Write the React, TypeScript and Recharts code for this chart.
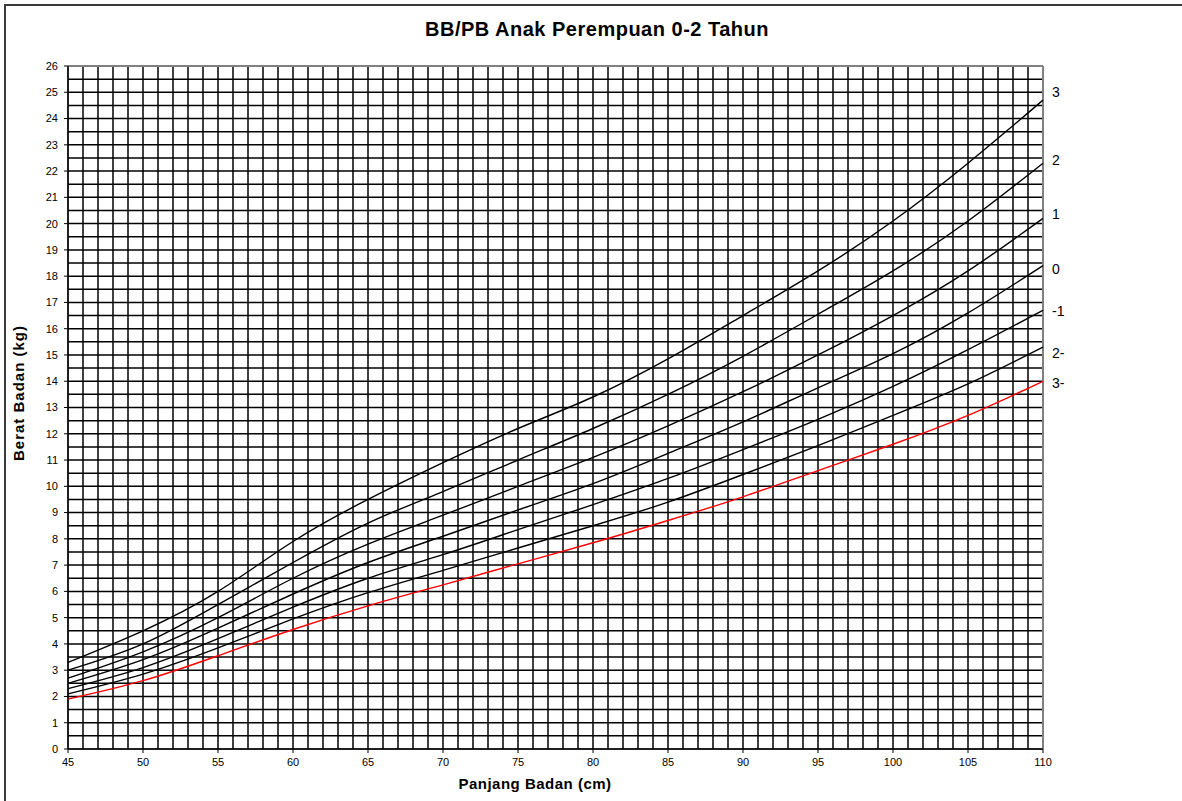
import { CartesianGrid, Label, Line, LineChart, ReferenceLine, XAxis, YAxis } from "recharts";

// panjang badan (cm)
const lengths = [45, 50, 55, 60, 65, 70, 75, 80, 85, 90, 95, 100, 105, 110];

// berat badan (kg) per z-score
const sd3neg = [1.9, 2.6, 3.55, 4.55, 5.45, 6.25, 7.05, 7.85, 8.7, 9.6, 10.6, 11.6, 12.7, 14.0];
const sd2neg = [2.1, 2.85, 3.85, 4.95, 5.95, 6.8, 7.65, 8.5, 9.4, 10.45, 11.55, 12.7, 13.9, 15.3];
const sd1neg = [2.3, 3.1, 4.2, 5.4, 6.5, 7.4, 8.35, 9.3, 10.3, 11.4, 12.55, 13.8, 15.2, 16.7];
const median = [2.5, 3.4, 4.6, 5.9, 7.1, 8.1, 9.1, 10.1, 11.25, 12.45, 13.75, 15.05, 16.6, 18.4];
const sd1 = [2.7, 3.7, 5.0, 6.5, 7.8, 8.9, 10.0, 11.1, 12.3, 13.6, 15.0, 16.5, 18.2, 20.2];
const sd2 = [3.0, 4.0, 5.5, 7.1, 8.6, 9.8, 11.0, 12.2, 13.5, 14.95, 16.55, 18.2, 20.1, 22.3];
const sd3 = [3.3, 4.5, 6.0, 7.9, 9.5, 10.9, 12.2, 13.4, 14.85, 16.5, 18.2, 20.1, 22.3, 24.7];

const xTicks = [45, 50, 55, 60, 65, 70, 75, 80, 85, 90, 95, 100, 105, 110];
const yTicks = [0, 1, 2, 3, 4, 5, 6, 7, 8, 9, 10, 11, 12, 13, 14, 15, 16, 17, 18, 19, 20, 21, 22, 23, 24, 25, 26];
const endLabels = ["3", "2", "1", "0", "-1", "2-", "3-"];

const data = lengths.map((len, i) => ({
  len,
  sd3: sd3[i],
  sd2: sd2[i],
  sd1: sd1[i],
  sd0: median[i],
  sd1neg: sd1neg[i],
  sd2neg: sd2neg[i],
  sd3neg: sd3neg[i],
}));

// grid every 1 cm / 0.5 kg
const vGrid = Array.from({ length: 66 }, (_, i) => 45 + i);
const hGrid = Array.from({ length: 53 }, (_, i) => i * 0.5);

const FONT = "'Liberation Sans', Arial, sans-serif";

const series = [
  { key: "sd3", color: "#000", dy: -8 },
  { key: "sd2", color: "#000", dy: -3 },
  { key: "sd1", color: "#000", dy: -4 },
  { key: "sd0", color: "#000", dy: 3 },
  { key: "sd1neg", color: "#000", dy: 1 },
  { key: "sd2neg", color: "#000", dy: 6 },
  { key: "sd3neg", color: "#ff0000", dy: 2 },
];

export default function App() {
  const last = data.length - 1;
  return (
    <div style={{ position: "absolute", left: 0, top: 0, width: 1182, height: 801, background: "#fff", fontFamily: FONT }}>
      <div style={{ position: "absolute", left: 4, top: 4, right: 0, bottom: 0, borderLeft: "2px solid #3a3a3a", borderTop: "2px solid #3a3a3a" }} />
      <div style={{ position: "absolute", left: 347, width: 500, top: 18, textAlign: "center", fontWeight: "bold", fontSize: 20, letterSpacing: 0.5 }}>
        BB/PB Anak Perempuan 0-2 Tahun
      </div>
      <div style={{ position: "absolute", left: 0, top: 0 }}>
        <LineChart width={1182} height={801} data={data} margin={{ top: 66, right: 139, bottom: 0, left: 0 }}>
          <CartesianGrid stroke="#000" strokeWidth={1.5} verticalValues={vGrid} horizontalValues={hGrid} />
          <XAxis
            dataKey="len"
            type="number"
            domain={[45, 110]}
            ticks={xTicks}
            interval={0}
            height={52}
            tickSize={4}
            tickMargin={5}
            stroke="#000"
            tick={{ fill: "#000", fontSize: 11, fontFamily: FONT }}
          >
            <Label
              content={() => (
                <text x={535} y={789} textAnchor="middle" fontWeight="bold" fontSize={15} letterSpacing={0.5} fontFamily={FONT} fill="#000">
                  Panjang Badan (cm)
                </text>
              )}
            />
          </XAxis>
          <YAxis
            type="number"
            domain={[0, 26]}
            ticks={yTicks}
            width={68}
            tickSize={4}
            tickMargin={6}
            interval={0}
            stroke="#000"
            tick={{ fill: "#000", fontSize: 11, fontFamily: FONT }}
          >
            <Label
              content={() => (
                <text
                  x={18}
                  y={393}
                  transform="rotate(-90 18 393)"
                  textAnchor="middle"
                  dominantBaseline="central"
                  fontWeight="bold"
                  fontSize={15}
                  letterSpacing={1}
                  fontFamily={FONT}
                  fill="#000"
                >
                  Berat Badan (kg)
                </text>
              )}
            />
          </YAxis>
          <ReferenceLine y={26} stroke="#808080" strokeWidth={2} />
          <ReferenceLine x={110} stroke="#808080" strokeWidth={2} />
          {series.map((s, si) => (
            <Line
              key={s.key}
              dataKey={s.key}
              type="natural"
              stroke={s.color}
              strokeWidth={1.4}
              dot={false}
              activeDot={false}
              isAnimationActive={false}
              label={(p: any) =>
                p.index === last ? (
                  <text
                    key={s.key + "-lbl"}
                    x={p.x + 9}
                    y={p.y + s.dy}
                    dominantBaseline="central"
                    fontSize={14}
                    fontFamily={FONT}
                    fill="#000"
                  >
                    {endLabels[si]}
                  </text>
                ) : (
                  <g key={s.key + "-" + p.index} />
                )
              }
            />
          ))}
        </LineChart>
      </div>
    </div>
  );
}
